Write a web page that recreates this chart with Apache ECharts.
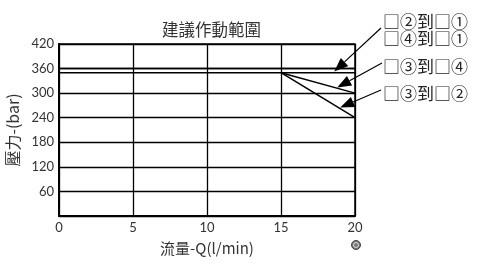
<!DOCTYPE html>
<html><head><meta charset="utf-8">
<script src="https://cdn.jsdelivr.net/npm/echarts@6/dist/echarts.min.js"></script>
<style>html,body{margin:0;padding:0;background:#fff}#c{width:500px;height:265px}</style>
</head><body><div id="c"></div>
<script>
const xTicks = [0, 5, 10, 15, 20];
const yTicks = [60, 120, 180, 240, 300, 360, 420];
const line21 = [[0, 360], [20, 360]];
const line41 = [[0, 350], [20, 350]];
const line34 = [[15, 350], [20, 300]];
const line32 = [[15, 350], [20, 240]];
const labels = ['□②到□①\n□④到□①', '□③到□④', '□③到□②'];
// arrow tips in data coords
const tips = [[18.6, 353], [18.8, 314], [19.0, 265]];

const chart = echarts.init(document.getElementById('c'));
const lineStyle = { color: '#000', width: 1.5 };
const mk = (d) => ({ type: 'line', data: d, symbol: 'none', lineStyle, silent: true, animation: false });
chart.setOption({
  animation: false,
  title: { text: '建議作動範圍', left: 157, top: 16,
    textStyle: { fontFamily: 'Noto Sans CJK TC', fontWeight: 'normal', fontSize: 16.5, color: '#333' } },
  grid: { left: 59, right: 145, top: 44, bottom: 49, show: true, borderColor: '#000', borderWidth: 1.5,
    containLabel: false, outerBoundsMode: 'none' },
  xAxis: { type: 'value', min: 0, max: 20, interval: 5,
    name: '流量-Q(l/min)', nameLocation: 'middle', nameGap: 25,
    nameTextStyle: { fontFamily: 'Noto Sans CJK TC', fontSize: 15, color: '#333', padding: [0, 0, 0, 0] },
    axisLine: { show: true, lineStyle: { color: '#000', width: 2 } }, axisTick: { show: false },
    axisLabel: { fontFamily: 'Lato', fontSize: 13, color: '#333', margin: 5 },
    splitLine: { show: true, lineStyle: { color: '#000', width: 1.3 } } },
  yAxis: { type: 'value', min: 0, max: 420, interval: 60,
    name: '壓力-(bar)', nameLocation: 'middle', nameGap: 36, nameRotate: 90,
    nameTextStyle: { fontFamily: 'Noto Sans CJK TC', fontSize: 16, color: '#333' },
    axisLine: { show: true, lineStyle: { color: '#000', width: 2 } }, axisTick: { show: false },
    axisLabel: { fontFamily: 'Lato', fontSize: 13, color: '#333', margin: 5,
      formatter: v => (yTicks.indexOf(v) >= 0 ? String(v) : '') },
    splitLine: { show: true, lineStyle: { color: '#000', width: 1.3 } } },
  series: [mk(line21), mk(line41), mk(line34), mk(line32)]
});

const tails = [[381, 28], [382, 63], [381, 90]];
const textPos = [[383, 13], [383, 58], [383, 85]];
const g = [];
tips.forEach((t, i) => {
  const p = chart.convertToPixel({ gridIndex: 0 }, t);
  const q = tails[i];
  const dx = p[0] - q[0], dy = p[1] - q[1];
  const L = Math.hypot(dx, dy), ux = dx / L, uy = dy / L;
  const hl = 14, hw = 5.5;
  const bx = p[0] - ux * hl, by = p[1] - uy * hl;
  g.push({ type: 'line', shape: { x1: q[0], y1: q[1], x2: bx, y2: by }, style: { stroke: '#000', lineWidth: 1.2 } });
  g.push({ type: 'polygon', shape: { points: [[p[0], p[1]], [bx - uy * hw, by + ux * hw], [bx + uy * hw, by - ux * hw]] }, style: { fill: '#000' } });
  g.push({ type: 'text', x: textPos[i][0], y: textPos[i][1],
    style: { text: labels[i], font: '17px "Noto Sans CJK TC"', fill: '#222', lineHeight: 17 } });
});
g.push({ type: 'circle', shape: { cx: 356, cy: 245, r: 4.5 }, style: { fill: '#777', stroke: '#444', lineWidth: 1 } });
g.push({ type: 'circle', shape: { cx: 356, cy: 245, r: 2.5 }, style: { fill: 'none', stroke: '#ddd', lineWidth: 1 } });
chart.setOption({ graphic: g });
</script></body></html>
